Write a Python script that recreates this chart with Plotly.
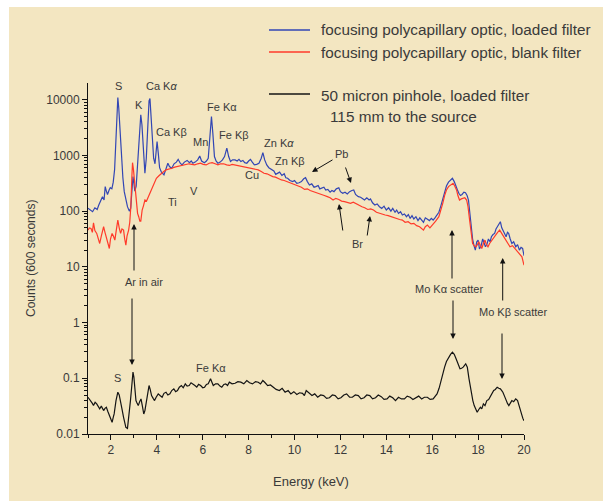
import numpy as np
import plotly.graph_objects as go

# ---------------- data ----------------
# energies in keV, log10 of counts (600 s)
blue_E = [1.00,1.10,1.20,1.30,1.40,1.47,1.55,1.63,1.70,1.75,1.80,1.85,1.92,1.97,2.04,2.10,2.16,2.22,2.27,2.30,
          2.34,2.40,2.46,2.52,2.58,2.65,2.72,2.80,2.86,2.92,2.96,3.00,3.04,3.10,3.17,3.24,3.30,3.35,3.42,3.48,
          3.54,3.60,3.66,3.70,3.75,3.80,3.86,3.92,3.97,4.01,4.06,4.12,4.20,4.31,4.40,4.48,4.55,4.65,4.75,4.85,
          4.93,5.02,5.10,5.20,5.32,5.42,5.50,5.57,5.67,5.78,5.87,5.95,6.07,6.16,6.24,6.30,6.38,6.44,6.51,6.58,
          6.66,6.76,6.86,6.95,7.05,7.13,7.21,7.30,7.41,7.50,7.58,7.66,7.75,7.83,7.92,8.00,8.08,8.16,8.25,8.35,
          8.45,8.55,8.62,8.70,8.79,8.88,9.00,9.10,9.18,9.25,9.35,9.45,9.55,9.62,9.70,9.80,9.92,10.00,10.10,10.20,
          10.30,10.40,10.48,10.56,10.65,10.75,10.85,10.93,11.03,11.10,11.18,11.28,11.36,11.45,11.55,11.63,11.72,11.82,11.93,12.00,
          12.10,12.20,12.30,12.40,12.50,12.58,12.66,12.78,12.88,12.96,13.05,13.15,13.25,13.31,13.40,13.50,13.60,13.70,13.80,13.90,
          14.00,14.10,14.20,14.28,14.38,14.45,14.53,14.62,14.70,14.79,14.88,14.96,15.04,15.12,15.20,15.29,15.38,15.46,15.54,15.62,
          15.70,15.79,15.88,15.96,16.04,16.12,16.20,16.29,16.38,16.46,16.54,16.62,16.71,16.79,16.88,16.96,17.04,17.10,17.16,17.23,
          17.30,17.38,17.45,17.52,17.58,17.64,17.70,17.76,17.82,17.88,17.94,18.00,18.06,18.13,18.20,18.26,18.32,18.38,18.45,18.52,
          18.58,18.65,18.72,18.78,18.83,18.90,18.97,19.03,19.08,19.15,19.22,19.28,19.33,19.40,19.47,19.55,19.64,19.72,19.80,19.87,
          19.94,20.00]
blue_logc = [2.05,2.02,1.99,2.06,2.03,2.11,2.18,2.26,2.20,2.44,2.36,2.30,2.38,2.42,2.40,2.52,2.75,3.30,3.85,4.04,
             3.85,3.40,2.95,2.60,2.35,2.20,2.08,2.00,2.05,2.40,2.62,2.50,2.36,2.45,2.95,3.50,3.73,3.55,2.95,2.68,
             2.95,3.60,3.98,4.02,3.70,3.25,2.95,2.85,3.10,3.25,3.05,2.78,2.70,2.65,2.76,2.86,2.80,2.77,2.85,2.88,
             2.93,2.86,2.83,2.88,2.91,2.87,2.90,2.86,2.88,2.92,2.99,2.90,2.87,2.90,2.95,3.30,3.70,3.40,2.98,2.90,
             2.86,2.88,2.92,2.98,3.13,2.98,2.89,2.92,2.92,2.90,2.93,2.89,2.91,2.87,2.86,2.90,2.93,2.88,2.83,2.84,
             2.86,2.95,3.05,2.92,2.83,2.78,2.74,2.72,2.66,2.68,2.70,2.64,2.67,2.60,2.59,2.55,2.53,2.55,2.50,2.51,
             2.53,2.58,2.60,2.53,2.47,2.49,2.43,2.44,2.46,2.40,2.41,2.43,2.38,2.39,2.34,2.37,2.35,2.40,2.42,2.35,
             2.32,2.34,2.31,2.35,2.37,2.38,2.30,2.26,2.25,2.22,2.20,2.24,2.20,2.22,2.15,2.11,2.13,2.08,2.05,2.09,
             2.02,2.06,2.00,2.05,1.98,2.02,1.96,1.99,1.93,1.95,1.90,1.94,1.87,1.92,1.86,1.90,1.83,1.88,1.84,1.80,
             1.88,1.86,1.83,1.87,1.84,1.88,1.92,1.98,2.10,2.22,2.36,2.45,2.52,2.56,2.59,2.53,2.46,2.38,2.32,2.28,
             2.30,2.34,2.33,2.28,2.20,1.98,1.70,1.50,1.38,1.30,1.45,1.48,1.32,1.38,1.50,1.42,1.36,1.40,1.50,1.45,
             1.54,1.58,1.60,1.68,1.72,1.76,1.81,1.70,1.66,1.60,1.54,1.62,1.60,1.50,1.42,1.45,1.36,1.40,1.30,1.35,
             1.33,1.20]

red_E = [1.00,1.06,1.13,1.19,1.24,1.30,1.38,1.44,1.51,1.58,1.63,1.68,1.74,1.80,1.86,1.93,1.98,2.05,2.11,2.17,
         2.23,2.30,2.36,2.42,2.48,2.55,2.60,2.65,2.70,2.77,2.82,2.87,2.91,2.94,2.98,3.02,3.06,3.11,3.16,3.21,
         3.26,3.30,3.36,3.42,3.48,3.55,3.64,3.72,3.81,3.90,3.98,4.08,4.20,4.30,4.40,4.52,4.65,4.78,4.90,5.02,
         5.15,5.28,5.40,5.52,5.65,5.78,5.90,6.02,6.15,6.28,6.41,6.54,6.66,6.78,6.91,7.04,7.16,7.28,7.41,7.54,
         7.66,7.79,7.92,8.04,8.17,8.30,8.42,8.55,8.67,8.80,8.92,9.05,9.17,9.30,9.43,9.55,9.68,9.80,9.93,10.05,
         10.18,10.30,10.44,10.56,10.68,10.80,10.93,11.05,11.18,11.30,11.43,11.55,11.68,11.80,11.93,12.05,12.18,12.30,12.44,12.56,
         12.69,12.82,12.94,13.06,13.19,13.32,13.44,13.57,13.70,13.82,13.95,14.08,14.20,14.32,14.45,14.58,14.70,14.82,14.95,15.08,
         15.20,15.32,15.45,15.55,15.62,15.70,15.79,15.90,16.04,16.15,16.29,16.38,16.46,16.54,16.62,16.71,16.79,16.91,16.98,17.06,
         17.12,17.19,17.27,17.35,17.42,17.50,17.56,17.63,17.70,17.76,17.83,17.90,17.97,18.03,18.10,18.16,18.23,18.30,18.36,18.43,
         18.50,18.60,18.68,18.77,18.85,18.94,19.00,19.07,19.15,19.22,19.30,19.39,19.50,19.61,19.70,19.77,19.85,19.91,20.00]
red_logc = [1.66,1.70,1.69,1.62,1.79,1.65,1.60,1.50,1.42,1.55,1.66,1.72,1.62,1.54,1.45,1.33,1.50,1.60,1.55,1.48,
            1.65,1.84,1.70,1.60,1.68,1.66,1.50,1.39,1.55,1.66,1.80,2.10,2.60,2.87,2.75,2.55,2.40,2.15,1.96,1.90,
            1.82,1.82,2.02,2.10,2.20,2.18,2.26,2.35,2.44,2.52,2.59,2.63,2.68,2.71,2.74,2.75,2.77,2.79,2.80,2.82,
            2.83,2.84,2.85,2.84,2.83,2.85,2.86,2.84,2.83,2.86,2.87,2.85,2.83,2.85,2.85,2.83,2.82,2.84,2.83,2.81,
            2.80,2.80,2.79,2.78,2.76,2.75,2.74,2.71,2.68,2.67,2.64,2.62,2.61,2.58,2.56,2.55,2.53,2.50,2.49,2.47,
            2.44,2.43,2.39,2.40,2.37,2.35,2.33,2.32,2.29,2.28,2.26,2.24,2.20,2.23,2.21,2.18,2.17,2.15,2.14,2.16,
            2.13,2.10,2.08,2.06,2.03,2.04,2.02,1.98,1.96,1.95,1.93,1.92,1.90,1.88,1.87,1.85,1.84,1.80,1.81,1.77,
            1.78,1.74,1.72,1.68,1.66,1.72,1.75,1.70,1.78,1.82,1.90,2.02,2.14,2.28,2.38,2.44,2.47,2.50,2.45,2.38,
            2.28,2.20,2.22,2.23,2.24,2.20,2.08,1.84,1.58,1.42,1.38,1.36,1.40,1.45,1.38,1.33,1.42,1.48,1.40,1.36,
            1.42,1.48,1.52,1.57,1.62,1.66,1.62,1.57,1.52,1.48,1.42,1.36,1.38,1.33,1.28,1.24,1.22,1.18,1.03]

black_E = [1.00,1.07,1.13,1.19,1.24,1.31,1.38,1.45,1.51,1.58,1.68,1.74,1.80,1.87,1.93,2.00,2.05,2.10,2.14,2.22,
           2.30,2.36,2.42,2.48,2.55,2.60,2.65,2.72,2.80,2.85,2.89,2.96,3.00,3.03,3.09,3.14,3.19,3.25,3.31,3.37,
           3.43,3.48,3.53,3.60,3.66,3.71,3.77,3.84,3.90,3.97,4.06,4.14,4.23,4.31,4.40,4.48,4.57,4.65,4.74,4.82,
           4.90,4.98,5.07,5.15,5.24,5.32,5.41,5.49,5.57,5.66,5.74,5.82,5.91,6.00,6.08,6.16,6.24,6.34,6.40,6.46,
           6.56,6.66,6.75,6.83,6.92,7.00,7.08,7.16,7.28,7.41,7.53,7.66,7.79,7.92,8.04,8.17,8.30,8.42,8.52,8.62,
           8.72,8.83,8.95,9.08,9.20,9.34,9.46,9.59,9.72,9.84,9.97,10.10,10.22,10.35,10.43,10.51,10.63,10.76,10.88,11.01,
           11.14,11.27,11.40,11.52,11.65,11.77,11.90,12.02,12.15,12.27,12.40,12.52,12.65,12.78,12.90,13.03,13.15,13.28,13.40,13.53,
           13.65,13.78,13.90,14.03,14.15,14.28,14.40,14.53,14.66,14.79,14.91,15.04,15.16,15.29,15.41,15.54,15.66,15.79,15.91,16.04,
           16.12,16.21,16.30,16.38,16.46,16.54,16.62,16.71,16.80,16.88,16.96,17.04,17.12,17.21,17.28,17.35,17.46,17.53,17.60,17.66,
           17.71,17.77,17.83,17.90,17.96,18.03,18.10,18.16,18.23,18.30,18.38,18.46,18.55,18.62,18.68,18.75,18.83,18.90,18.97,19.03,
           19.08,19.15,19.22,19.28,19.34,19.40,19.47,19.55,19.64,19.72,19.80,19.85,19.90,19.95,20.00]
black_logc = [-1.34,-1.38,-1.40,-1.45,-1.49,-1.43,-1.46,-1.52,-1.55,-1.50,-1.58,-1.54,-1.52,-1.60,-1.67,-1.74,-1.79,-1.70,-1.64,-1.40,
              -1.25,-1.30,-1.40,-1.55,-1.70,-1.80,-1.88,-1.90,-1.64,-1.40,-1.22,-0.89,-0.98,-1.10,-1.40,-1.45,-1.49,-1.42,-1.37,-1.50,
              -1.64,-1.58,-1.46,-1.30,-1.13,-1.20,-1.31,-1.36,-1.40,-1.34,-1.28,-1.31,-1.34,-1.27,-1.25,-1.30,-1.28,-1.22,-1.19,-1.24,
              -1.22,-1.16,-1.13,-1.17,-1.10,-1.14,-1.13,-1.08,-1.10,-1.13,-1.16,-1.11,-1.13,-1.17,-1.16,-1.11,-1.10,-1.01,-1.07,-1.13,
              -1.10,-1.10,-1.14,-1.16,-1.11,-1.10,-1.13,-1.07,-1.10,-1.09,-1.06,-1.07,-1.10,-1.04,-1.08,-1.10,-1.06,-1.07,-1.10,-1.04,
              -1.08,-1.13,-1.12,-1.16,-1.20,-1.22,-1.18,-1.25,-1.22,-1.28,-1.24,-1.29,-1.26,-1.27,-1.31,-1.22,-1.27,-1.31,-1.28,-1.34,
              -1.30,-1.31,-1.36,-1.35,-1.30,-1.31,-1.37,-1.35,-1.30,-1.28,-1.34,-1.34,-1.30,-1.31,-1.37,-1.35,-1.30,-1.31,-1.37,-1.35,
              -1.30,-1.33,-1.38,-1.37,-1.32,-1.35,-1.40,-1.34,-1.37,-1.37,-1.32,-1.34,-1.38,-1.35,-1.32,-1.37,-1.34,-1.34,-1.38,-1.37,
              -1.33,-1.28,-1.18,-1.04,-0.92,-0.80,-0.70,-0.62,-0.57,-0.53,-0.57,-0.65,-0.74,-0.83,-0.82,-0.80,-0.74,-0.80,-1.00,-1.15,
              -1.28,-1.40,-1.49,-1.55,-1.61,-1.56,-1.52,-1.55,-1.46,-1.49,-1.40,-1.38,-1.31,-1.27,-1.22,-1.20,-1.16,-1.18,-1.19,-1.22,
              -1.25,-1.32,-1.40,-1.45,-1.49,-1.44,-1.40,-1.42,-1.37,-1.40,-1.52,-1.60,-1.67,-1.72,-1.76]

y_tick_vals = [0.01, 0.1, 1, 10, 100, 1000, 10000]
y_tick_text = ["0.01", "0.1", "1", "10", "100", "1000", "10000"]
x_tick_vals = [2, 4, 6, 8, 10, 12, 14, 16, 18, 20]

# ---------------- layout helpers (pixel -> paper) ----------------
W, H = 603, 502
ML, MR, MT, MB = 88, 79, 83, 68
PW, PH = W - ML - MR, H - MT - MB


def px(x):
    return (x - ML) / PW


def py(y):
    return (H - MB - y) / PH


BLUE = "#3246b4"
RED = "#ff3a2a"
BLACK = "#141414"
TXT = "#3a3a3a"
FONT = "Liberation Sans, Arial, sans-serif"

fig = go.Figure()
fig.add_trace(go.Scatter(x=black_E, y=np.power(10.0, black_logc), mode="lines",
                         line=dict(color=BLACK, width=1.2), showlegend=False))
fig.add_trace(go.Scatter(x=blue_E, y=np.power(10.0, blue_logc), mode="lines",
                         line=dict(color=BLUE, width=1.2), showlegend=False))
fig.add_trace(go.Scatter(x=red_E, y=np.power(10.0, red_logc), mode="lines",
                         line=dict(color=RED, width=1.2), showlegend=False))

shapes = [
    dict(type="rect", xref="paper", yref="paper", x0=px(9), x1=px(603), y0=py(501), y1=py(7),
         fillcolor="#f3e6c1", line=dict(width=0), layer="below"),
    dict(type="line", xref="paper", yref="paper", x0=px(269), x1=px(310), y0=py(30), y1=py(30),
         line=dict(color=BLUE, width=1.3)),
    dict(type="line", xref="paper", yref="paper", x0=px(269), x1=px(310), y0=py(52), y1=py(52),
         line=dict(color=RED, width=1.3)),
    dict(type="line", xref="paper", yref="paper", x0=px(269), x1=px(310), y0=py(94), y1=py(94),
         line=dict(color=BLACK, width=1.3)),
]

ann = []


def text(x, y, s, size=11, anchor="center"):
    ann.append(dict(xref="paper", yref="paper", x=px(x), y=py(y), text=s, showarrow=False,
                    xanchor=anchor, yanchor="middle", font=dict(size=size, color=TXT, family=FONT)))


def arrow(x, y, x_tail, y_tail):
    ann.append(dict(xref="paper", yref="paper", x=px(x), y=py(y), text="", showarrow=True,
                    ax=x_tail - x, ay=y_tail - y, axref="pixel", ayref="pixel",
                    arrowhead=2, arrowsize=1.1, arrowwidth=1, arrowcolor="#111111"))


# legend texts
text(319, 30, "focusing polycapillary optic, loaded filter", 15.3, "left")
text(319, 52, "focusing polycapillary optic, blank filter", 15.3, "left")
text(319, 95, "50 micron pinhole, loaded filter", 15.3, "left")
text(328, 117, "115 mm to the source", 15.3, "left")

# peak labels
text(118.5, 86, "S")
text(161.5, 86, "Ca K<i>α</i>")
text(139, 105, "K")
text(171, 132, "Ca Kβ")
text(222, 107, "Fe Kα")
text(200, 142, "Mn")
text(234, 135, "Fe Kβ")
text(279, 143, "Zn K<i>α</i>")
text(290, 161, "Zn Kβ")
text(252, 175, "Cu")
text(341.5, 154, "Pb")
text(172, 202, "Ti")
text(193.5, 191, "V")
text(357, 244, "Br")
text(143.5, 282, "Ar in air")
text(449, 289, "Mo Kα scatter")
text(512.7, 312, "Mo Kβ scatter")
text(117, 378, "S")
text(211, 368, "Fe Kα")

# arrows (tip, tail)
arrow(134, 224, 134, 272)
arrow(132, 365, 132, 297)
arrow(452, 230, 452, 280)
arrow(453, 339, 453, 299)
arrow(502.7, 258, 502.7, 302)
arrow(502, 379, 502, 332)
arrow(312, 172, 334, 159)
arrow(351, 183, 345, 166)
arrow(339, 204, 343, 232)
arrow(370, 216, 367, 237)

# axis titles
text(310.8, 481.7, "Energy (keV)", 13)
ann.append(dict(xref="paper", yref="paper", x=px(31), y=py(259), text="Counts (600 seconds)",
                showarrow=False, textangle=-90, xanchor="center", yanchor="middle",
                font=dict(size=12, color=TXT, family=FONT)))

minor_y = []
for d in [0.01, 0.1, 1, 10, 100, 1000, 10000]:
    for m in range(2, 10):
        if d * m < 20000:
            minor_y.append(d * m)

fig.update_layout(
    width=W, height=H,
    margin=dict(l=ML, r=MR, t=MT, b=MB, pad=0),
    paper_bgcolor="white", plot_bgcolor="rgba(0,0,0,0)",
    shapes=shapes, annotations=ann,
    font=dict(family=FONT, color=TXT, size=12),
    xaxis=dict(range=[1, 20], tickvals=x_tick_vals, ticks="outside", ticklen=5, tickwidth=1,
               tickcolor="#111", showline=True, linecolor="#111", linewidth=1, showgrid=False,
               zeroline=False, tickfont=dict(size=12, color=TXT),
               minor=dict(tickvals=[1, 3, 5, 7, 9, 11, 13, 15, 17, 19], ticks="outside", ticklen=3,
                          tickcolor="#111", showgrid=False)),
    yaxis=dict(type="log", range=[-2, 4.3], tickvals=y_tick_vals, ticktext=y_tick_text,
               ticks="outside", ticklen=5, tickwidth=1, tickcolor="#111", showline=True,
               linecolor="#111", linewidth=1, showgrid=False, zeroline=False,
               tickfont=dict(size=12, color=TXT),
               minor=dict(tickvals=minor_y, ticks="outside", ticklen=3, tickcolor="#111", showgrid=False)),
)

fig.write_html("out.html")
